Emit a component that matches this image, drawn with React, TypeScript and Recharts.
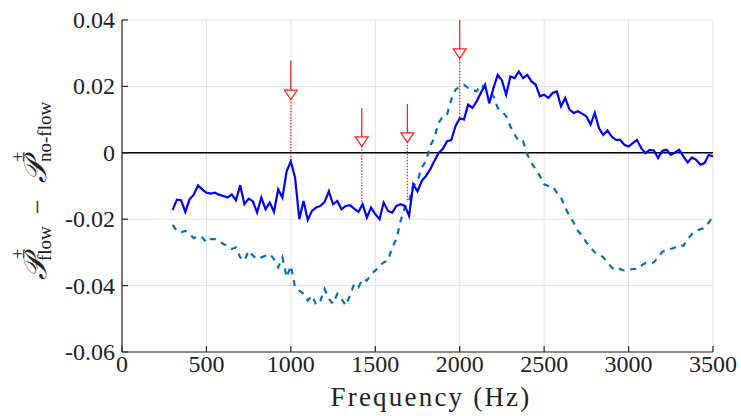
import React from "react";
import {
  LineChart,
  Line,
  XAxis,
  YAxis,
  CartesianGrid,
  ReferenceLine,
  ReferenceDot,
} from "recharts";

const freqs = [
  300, 325, 350, 375, 400, 425, 450, 475, 500, 525, 550, 575, 600, 625, 650, 675,
  700, 725, 750, 775, 800, 825, 850, 875, 900, 925, 950, 975, 1000, 1025, 1050, 1075,
  1100, 1125, 1150, 1175, 1200, 1225, 1250, 1275, 1300, 1325, 1350, 1375, 1400, 1425, 1450, 1475,
  1500, 1525, 1550, 1575, 1600, 1625, 1650, 1675, 1700, 1725, 1750, 1775, 1800, 1825, 1850, 1875,
  1900, 1925, 1950, 1975, 2000, 2025, 2050, 2075, 2100, 2125, 2150, 2175, 2200, 2225, 2250, 2275,
  2300, 2325, 2350, 2375, 2400, 2425, 2450, 2475, 2500, 2525, 2550, 2575, 2600, 2625, 2650, 2675,
  2700, 2725, 2750, 2775, 2800, 2825, 2850, 2875, 2900, 2925, 2950, 2975, 3000, 3025, 3050, 3075,
  3100, 3125, 3150, 3175, 3200, 3225, 3250, 3275, 3300, 3325, 3350, 3375, 3400, 3425, 3450, 3475,
  3500,
];

// solid blue curve
const solidVals = [
  -0.0172, -0.0141, -0.0143, -0.0178, -0.014, -0.0126, -0.0098, -0.011, -0.012, -0.0123, -0.012, -0.0126, -0.013, -0.0135, -0.0125, -0.0143,
  -0.0098, -0.0155, -0.0138, -0.0146, -0.018, -0.0135, -0.017, -0.015, -0.0178, -0.011, -0.0135, -0.0056, -0.0026, -0.0075, -0.02, -0.0145,
  -0.0202, -0.0175, -0.0165, -0.016, -0.0148, -0.0116, -0.0155, -0.0145, -0.017, -0.016, -0.0158, -0.0168, -0.0178, -0.0155, -0.0195, -0.0165,
  -0.0185, -0.02, -0.015, -0.0175, -0.018, -0.016, -0.0155, -0.016, -0.019, -0.0095, -0.0116, -0.0085, -0.007, -0.005, -0.0025, 0.0,
  0.0012, 0.0035, 0.0038, 0.008, 0.0104, 0.01, 0.0145, 0.0135, 0.0155, 0.018, 0.0205, 0.0149, 0.0195, 0.0235, 0.0218, 0.0175,
  0.023, 0.0225, 0.0245, 0.0225, 0.0235, 0.0215, 0.0205, 0.017, 0.0175, 0.0165, 0.018, 0.0185, 0.014, 0.0165, 0.013, 0.012,
  0.0125, 0.0118, 0.011, 0.0085, 0.012, 0.0074, 0.0054, 0.0067, 0.0049, 0.0039, 0.0039, 0.0024, 0.0019, 0.0029, 0.0039, 0.0014,
  -0.0001, 0.0009, 0.0007, -0.0016, 0.0006, 0.0009, -0.0006, 0.0001, 0.0009, -0.0011, -0.0029, -0.0014, -0.0021, -0.0036, -0.0031, -0.0006,
  -0.0011,
];

// dashed curve
const dashedVals = [
  -0.0217, -0.0235, -0.024, -0.0235, -0.0245, -0.0257, -0.025, -0.0255, -0.027, -0.026, -0.026, -0.0265, -0.0275, -0.028, -0.029, -0.0285,
  -0.0315, -0.0325, -0.0295, -0.031, -0.032, -0.0315, -0.031, -0.0305, -0.032, -0.0345, -0.0315, -0.0375, -0.034, -0.0405, -0.0415, -0.0425,
  -0.0445, -0.043, -0.0458, -0.0445, -0.041, -0.044, -0.0455, -0.0425, -0.044, -0.046, -0.043, -0.0395, -0.0405, -0.038, -0.0385, -0.0365,
  -0.0355, -0.034, -0.033, -0.0325, -0.0285, -0.026, -0.0205, -0.0165, -0.0145, -0.01, -0.0085, -0.0045, -0.0025, 0.002, 0.0045, 0.009,
  0.011, 0.0115, 0.016, 0.019, 0.02, 0.0205, 0.0195, 0.019, 0.0185, 0.0205, 0.0195, 0.0185, 0.017, 0.0135, 0.0125, 0.011,
  0.008, 0.0055, 0.0035, 0.0035, -0.0005, -0.003, -0.005, -0.007, -0.0095, -0.01, -0.01, -0.012, -0.0135, -0.0165, -0.019, -0.021,
  -0.0235, -0.025, -0.027, -0.0285, -0.03, -0.0305, -0.0315, -0.033, -0.0345, -0.0355, -0.035, -0.0355, -0.0352, -0.035, -0.035, -0.034,
  -0.0332, -0.0335, -0.033, -0.0315, -0.0298, -0.0295, -0.029, -0.0285, -0.0277, -0.028, -0.026, -0.0245, -0.0235, -0.023, -0.0227, -0.021,
  -0.019,
];

const xTicks = [0, 500, 1000, 1500, 2000, 2500, 3000, 3500];
const yTicks = [-0.06, -0.04, -0.02, 0, 0.02, 0.04];
const yTickLabels = ["-0.06", "-0.04", "-0.02", "0", "0.02", "0.04"];

// red markers: stem top, triangle top, triangle tip, end of dotted drop
const arrowFreqs = [1000, 1420, 1690, 2000];
const arrowStart = [0.0277, 0.0135, 0.0147, 0.04];
const arrowHead = [0.0189, 0.0048, 0.006, 0.0313];
const arrowTip = [0.0162, 0.002, 0.0033, 0.0283];
const arrowEnd = [-0.0028, -0.0148, -0.0148, 0.0099];

const data = freqs.map((f, i) => ({ f, solid: solidVals[i], dashed: dashedVals[i] }));

const RED = "#ff1f1f";
const AXIS = "#262626";
const INK = "#222";
const SERIF = "'Liberation Serif', 'DejaVu Serif', serif";

const Triangle = (props: any) => {
  const { cx, cy } = props;
  return (
    <path
      d={`M${cx - 6.5},${cy} L${cx + 6.5},${cy} L${cx},${cy + 9.5} Z`}
      fill="#fff"
      stroke={RED}
      strokeWidth={1.2}
    />
  );
};

const XTick = (props: any) => {
  const { x, y, payload } = props;
  return (
    <text x={x} y={y + 10} textAnchor="middle" style={{ fontFamily: SERIF }} fontSize={24} fill={INK}>
      {payload.value}
    </text>
  );
};

const YTick = (props: any) => {
  const { x, y, payload } = props;
  return (
    <text x={x} y={y + 8} textAnchor="end" style={{ fontFamily: SERIF }} fontSize={24} fill={INK}>
      {yTickLabels[yTicks.indexOf(payload.value)]}
    </text>
  );
};

const XLabel = () => (
  <text x={431} y={406} textAnchor="middle" style={{ fontFamily: SERIF }} fontSize={27} fill={INK} letterSpacing={2.2}>
    Frequency (Hz)
  </text>
);

const YLabel = () => (
  <g transform="translate(46,186) rotate(-90)" style={{ fontFamily: SERIF }} fill={INK}>
    <text x={-94} y={0} fontSize={32} fontStyle="italic">𝒫</text>
    <text x={-73} y={-22} fontSize={19}>±</text>
    <text x={-75} y={5} fontSize={19}>flow</text>
    <text x={-28} y={0} fontSize={26}>−</text>
    <text x={3} y={0} fontSize={32} fontStyle="italic">𝒫</text>
    <text x={24} y={-22} fontSize={19}>±</text>
    <text x={24} y={5} fontSize={19}>no-flow</text>
  </g>
);

const hidden = () => <g />;

const App: React.FC = () => {
  return (
    <div style={{ position: "absolute", left: 0, top: 0, width: 741, height: 416, background: "#fff", fontFamily: SERIF }}>
      <LineChart
        width={741}
        height={416}
        data={data}
        margin={{ top: 20, right: 28, bottom: 0, left: 0 }}
      >
        <CartesianGrid stroke="#e3e3e3" strokeWidth={1} />
        <XAxis
          dataKey="f"
          type="number"
          domain={[0, 3500]}
          ticks={xTicks}
          height={64}
          tickSize={-6}
          tickMargin={16}
          stroke={AXIS}
          strokeWidth={1.2}
          tick={<XTick />}
          label={<XLabel />}
        />
        <XAxis
          xAxisId="top"
          orientation="top"
          dataKey="f"
          type="number"
          domain={[0, 3500]}
          ticks={xTicks}
          height={0}
          tickSize={-6}
          stroke={AXIS}
          strokeWidth={1.2}
          tick={hidden}
        />
        <YAxis
          type="number"
          domain={[-0.06, 0.04]}
          ticks={yTicks}
          width={122}
          tickSize={-6}
          tickMargin={13}
          stroke={AXIS}
          strokeWidth={1.2}
          allowDataOverflow
          tick={<YTick />}
          label={<YLabel />}
        />
        <YAxis
          yAxisId="right"
          orientation="right"
          type="number"
          domain={[-0.06, 0.04]}
          ticks={yTicks}
          width={0}
          tickSize={-6}
          stroke={AXIS}
          strokeWidth={1.2}
          tick={hidden}
        />
        <ReferenceLine y={0} stroke="#000" strokeWidth={1.6} />
        {arrowFreqs.map((f, i) => (
          <ReferenceLine
            key={`stem${i}`}
            segment={[
              { x: f, y: arrowStart[i] },
              { x: f, y: arrowHead[i] },
            ]}
            stroke={RED}
            strokeWidth={1.3}
          />
        ))}
        {arrowFreqs.map((f, i) => (
          <ReferenceLine
            key={`drop${i}`}
            segment={[
              { x: f, y: arrowTip[i] },
              { x: f, y: arrowEnd[i] },
            ]}
            stroke={RED}
            strokeWidth={1.2}
            strokeDasharray="1.5 1.5"
          />
        ))}
        {arrowFreqs.map((f, i) => (
          <ReferenceDot key={`head${i}`} x={f} y={arrowHead[i]} r={6} shape={<Triangle />} />
        ))}
        <Line
          type="linear"
          dataKey="dashed"
          stroke="#0072bd"
          strokeWidth={2.2}
          strokeDasharray="6 6"
          dot={false}
          isAnimationActive={false}
        />
        <Line
          type="linear"
          dataKey="solid"
          stroke="#0000ff"
          strokeWidth={2.2}
          dot={false}
          isAnimationActive={false}
        />
      </LineChart>
    </div>
  );
};

export default App;
